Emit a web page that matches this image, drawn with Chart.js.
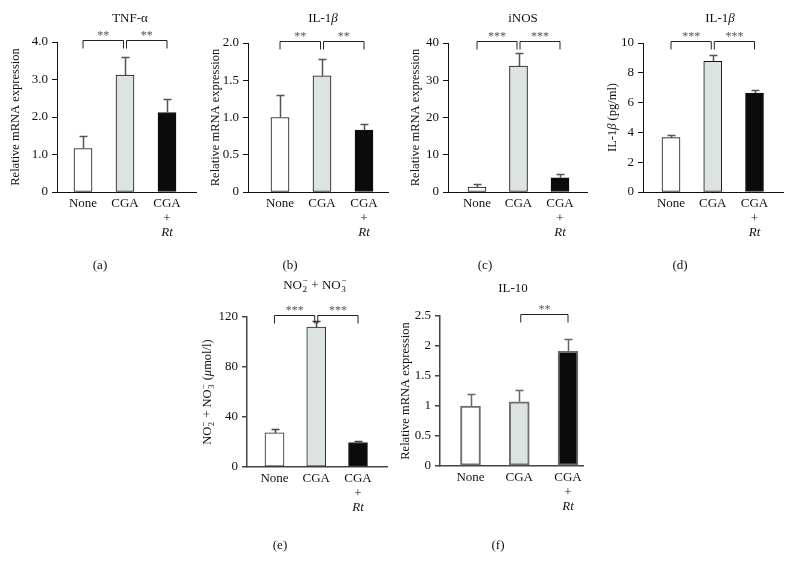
<!DOCTYPE html>
<html><head><meta charset="utf-8">
<script src="https://cdn.jsdelivr.net/npm/chart.js@4.4.1/dist/chart.umd.min.js"></script>
<style>
html,body{margin:0;padding:0;background:#fff;}
#wrap{position:relative;width:786px;height:561px;overflow:hidden;background:#fff;}
#wrap canvas{position:absolute;}
</style></head><body><div id="wrap"></div>
<script>
// ---------- data ----------
const categories = ['None', 'CGA', 'CGA'];
const plusLine = ['', '', '+'];
const rtLine = ['', '', 'Rt'];

const tnfMean = [1.16, 3.12, 2.12];
const tnfErr = [0.34, 0.48, 0.35];
const tnfTickVals = [0, 1, 2, 3, 4];
const tnfTickLabels = ['0', '1.0', '2.0', '3.0', '4.0'];
const tnfSig = [[0, 1, '**'], [1, 2, '**']];

const il1bMean = [1.0, 1.56, 0.83];
const il1bErr = [0.3, 0.23, 0.08];
const il1bTickVals = [0, 0.5, 1, 1.5, 2];
const il1bTickLabels = ['0', '0.5', '1.0', '1.5', '2.0'];
const il1bSig = [[0, 1, '**'], [1, 2, '**']];

const inosMean = [1.3, 33.8, 3.8];
const inosErr = [0.9, 3.6, 0.9];
const inosTickVals = [0, 10, 20, 30, 40];
const inosTickLabels = ['0', '10', '20', '30', '40'];
const inosSig = [[0, 1, '***'], [1, 2, '***']];

const il1bProtMean = [3.65, 8.77, 6.64];
const il1bProtErr = [0.2, 0.42, 0.18];
const il1bProtTickVals = [0, 2, 4, 6, 8, 10];
const il1bProtTickLabels = ['0', '2', '4', '6', '8', '10'];
const il1bProtSig = [[0, 1, '***'], [1, 2, '***']];

const noxMean = [27.3, 112, 19.6];
const noxErr = [2.8, 5, 1.0];
const noxTickVals = [0, 40, 80, 120];
const noxTickLabels = ['0', '40', '80', '120'];
const noxSig = [[0, 1, '***'], [1, 2, '***']];

const il10Mean = [1.0, 1.07, 1.91];
const il10Err = [0.2, 0.2, 0.2];
const il10TickVals = [0, 0.5, 1, 1.5, 2, 2.5];
const il10TickLabels = ['0', '0.5', '1', '1.5', '2', '2.5'];
const il10Sig = [[1, 2, '**']];

// ---------- text ----------
const relTitle = [{t: 'Relative mRNA expression'}];
const panelsText = {
  a: {title: [{t: 'TNF-α'}], ytitle: relTitle, label: '(a)'},
  b: {title: [{t: 'IL-1'}, {t: 'β', i: true}], ytitle: relTitle, label: '(b)'},
  c: {title: [{t: 'iNOS'}], ytitle: relTitle, label: '(c)'},
  d: {title: [{t: 'IL-1'}, {t: 'β', i: true}], ytitle: [{t: 'IL-1'}, {t: 'β', i: true}, {t: ' (pg/ml)'}], label: '(d)'},
  e: {title: [{t: 'NO'}, {sub: '2', sup: '−'}, {t: ' + NO'}, {sub: '3', sup: '−'}],
      ytitle: [{t: 'NO'}, {sub: '2', sup: '−'}, {t: ' + NO'}, {sub: '3', sup: '−'}, {t: ' ('}, {t: 'μ', i: true}, {t: 'mol/l)'}], label: '(e)'},
  f: {title: [{t: 'IL-10'}], ytitle: relTitle, label: '(f)'}
};

// ---------- styles ----------
const FONT = "'Liberation Serif', 'Times New Roman', serif";
const barFills = ['#ffffff', '#dde3e0', '#0b0b0b'];
const styleA = {barBorder: '#111', barBW: 1, barW: 18, axis: '#111', axisW: 1, err: '#555', errW: 1.5};
const styleF = {barBorder: '#6e6e6e', barBW: 2, barW: 20, axis: '#444', axisW: 1.5, err: '#666', errW: 1.5};
const styleE = {barBorder: '#222', barBW: 1, barW: 19, axis: '#444', axisW: 1.5, err: '#444', errW: 1.5};

const panels = [
  {k: 'a', mean: tnfMean, err: tnfErr, tv: tnfTickVals, tl: tnfTickLabels, sig: tnfSig, s: styleA,
   box: {x: 0, y: 0, w: 200, h: 275}, plot: {l: 57, r: 196, t: 42, b: 192}, centers: [83, 125, 167],
   titleXY: [130, 18], ytX: 15, labelXY: [100, 265]},
  {k: 'b', mean: il1bMean, err: il1bErr, tv: il1bTickVals, tl: il1bTickLabels, sig: il1bSig, s: styleA,
   box: {x: 200, y: 0, w: 193, h: 275}, plot: {l: 248, r: 388, t: 43, b: 192}, centers: [280, 322.5, 364],
   titleXY: [323, 18], ytX: 215, labelXY: [290, 265]},
  {k: 'c', mean: inosMean, err: inosErr, tv: inosTickVals, tl: inosTickLabels, sig: inosSig, s: styleA,
   box: {x: 393, y: 0, w: 197, h: 275}, plot: {l: 448, r: 587, t: 43, b: 192}, centers: [477, 518, 560],
   titleXY: [523, 18], ytX: 415, labelXY: [485, 265]},
  {k: 'd', mean: il1bProtMean, err: il1bProtErr, tv: il1bProtTickVals, tl: il1bProtTickLabels, sig: il1bProtSig, s: styleA,
   box: {x: 590, y: 0, w: 196, h: 275}, plot: {l: 643, r: 783, t: 43, b: 192}, centers: [671, 712.5, 754.5],
   titleXY: [720, 18], ytX: 612, labelXY: [680, 265]},
  {k: 'e', mean: noxMean, err: noxErr, tv: noxTickVals, tl: noxTickLabels, sig: noxSig, s: styleE,
   box: {x: 180, y: 270, w: 212, h: 285}, plot: {l: 247, r: 387, t: 317, b: 467}, centers: [274.5, 316.5, 358],
   titleXY: [315, 285], ytX: 207, labelXY: [280, 545]},
  {k: 'f', mean: il10Mean, err: il10Err, tv: il10TickVals, tl: il10TickLabels, sig: il10Sig, s: styleF,
   box: {x: 392, y: 270, w: 208, h: 285}, plot: {l: 440, r: 583, t: 316, b: 466}, centers: [470.5, 519, 568],
   titleXY: [513, 288], ytX: 405, labelXY: [498, 545]}
];

function fnt(size, italic) { return (italic ? 'italic ' : '') + size + 'px ' + FONT; }
function richWidth(ctx, segs, size) {
  let w = 0;
  segs.forEach(s => {
    if (s.sub !== undefined || s.sup !== undefined) {
      ctx.font = fnt(size * 0.7);
      w += Math.max(ctx.measureText(s.sub || '').width, ctx.measureText(s.sup || '').width) + 1;
    } else { ctx.font = fnt(size, s.i); w += ctx.measureText(s.t).width; }
  });
  return w;
}
function drawRich(ctx, segs, cx, cy, size, rot) {
  ctx.save();
  ctx.translate(cx, cy);
  if (rot) ctx.rotate(rot);
  const w = richWidth(ctx, segs, size);
  let x = -w / 2;
  const base = size * 0.33;
  ctx.textAlign = 'left'; ctx.textBaseline = 'alphabetic'; ctx.fillStyle = '#111';
  segs.forEach(s => {
    if (s.sub !== undefined || s.sup !== undefined) {
      ctx.font = fnt(size * 0.7);
      if (s.sub) ctx.fillText(s.sub, x + 0.5, base + size * 0.22);
      if (s.sup) ctx.fillText(s.sup, x + 0.5, base - size * 0.42);
      x += Math.max(ctx.measureText(s.sub || '').width, ctx.measureText(s.sup || '').width) + 1;
    } else {
      ctx.font = fnt(size, s.i);
      ctx.fillText(s.t, x, base);
      x += ctx.measureText(s.t).width;
    }
  });
  ctx.restore();
}

Chart.defaults.font.family = FONT;

panels.forEach(p => {
  const txt = panelsText[p.k];
  const wrap = document.getElementById('wrap');
  const cv = document.createElement('canvas');
  cv.width = p.box.w; cv.height = p.box.h;
  cv.style.left = p.box.x + 'px'; cv.style.top = p.box.y + 'px';
  cv.style.width = p.box.w + 'px'; cv.style.height = p.box.h + 'px';
  wrap.appendChild(cv);
  const L = p.plot.l - p.box.x;
  const T = p.plot.t - p.box.y;
  const R = p.box.x + p.box.w - p.plot.r;
  const B = p.plot.b - p.box.y;
  const XH = 20;
  const sp = (p.centers[2] - p.centers[0]) / 2;
  const xmin = (p.plot.l - p.centers[0]) / sp;
  const xmax = (p.plot.r - p.centers[0]) / sp;
  const ymax = p.tv[p.tv.length - 1];
  const s = p.s;

  const deco = {
    id: 'deco' + p.k,
    afterDatasetsDraw(chart) {
      const ctx = chart.ctx, x = chart.scales.x, y = chart.scales.y;
      ctx.save();
      ctx.strokeStyle = s.err; ctx.lineWidth = s.errW;
      p.mean.forEach((m, i) => {
        const px = Math.round(x.getPixelForValue(i)) + 0.5;
        const y0 = y.getPixelForValue(m);
        const y1 = Math.round(y.getPixelForValue(m + p.err[i])) + 0.5;
        ctx.beginPath();
        ctx.moveTo(px, y0); ctx.lineTo(px, y1);
        ctx.moveTo(px - 4, y1); ctx.lineTo(px + 4, y1);
        ctx.stroke();
      });
      ctx.restore();
    },
    afterDraw(chart) {
      const ctx = chart.ctx, x = chart.scales.x, y = chart.scales.y, ca = chart.chartArea;
      ctx.save();
      // brackets
      const yb = Math.round(ca.top - 2) + 0.5;
      ctx.strokeStyle = '#222'; ctx.lineWidth = 1;
      p.sig.forEach(([i, j, lab]) => {
        let x1 = x.getPixelForValue(i), x2 = x.getPixelForValue(j);
        if (i === 1) x1 += 1.5;
        if (j === 1) x2 -= 1.5;
        ctx.beginPath();
        ctx.moveTo(x1, yb + 8); ctx.lineTo(x1, yb); ctx.lineTo(x2, yb); ctx.lineTo(x2, yb + 8);
        ctx.stroke();
        ctx.fillStyle = '#555'; ctx.font = fnt(12);
        ctx.textAlign = 'center'; ctx.textBaseline = 'middle';
        ctx.fillText(lab, (x1 + x2) / 2, yb - 5);
      });
      // extra x label lines
      ctx.fillStyle = '#111'; ctx.textAlign = 'center'; ctx.textBaseline = 'middle';
      categories.forEach((c, i) => {
        const px = x.getPixelForValue(i);
        if (plusLine[i]) { ctx.font = fnt(13); ctx.fillText(plusLine[i], px, ca.bottom + 27); }
        if (rtLine[i]) { ctx.font = fnt(13, true); ctx.fillText(rtLine[i], px, ca.bottom + 41); }
      });
      // title, y title, panel label
      drawRich(ctx, txt.title, p.titleXY[0] - p.box.x, p.titleXY[1] - p.box.y, 13);
      drawRich(ctx, txt.ytitle, p.ytX - p.box.x, (ca.top + ca.bottom) / 2, 12.5, -Math.PI / 2);
      drawRich(ctx, [{t: txt.label}], p.labelXY[0] - p.box.x, p.labelXY[1] - p.box.y, 13);
      ctx.restore();
    }
  };

  new Chart(cv, {
    type: 'bar',
    data: {
      datasets: [{
        data: p.mean.map((v, i) => ({x: i, y: v})),
        backgroundColor: barFills,
        borderColor: s.barBorder,
        borderWidth: s.barBW,
        borderSkipped: false,
        barThickness: s.barW
      }]
    },
    options: {
      responsive: false, animation: false, devicePixelRatio: 1,
      layout: {padding: {left: 0, top: T, right: R, bottom: p.box.h - B - XH}},
      plugins: {legend: {display: false}, tooltip: {enabled: false}, title: {display: false}},
      scales: {
        x: {
          type: 'linear', min: xmin, max: xmax, offset: false,
          grid: {display: false, drawTicks: false},
          border: {display: true, color: s.axis, width: s.axisW},
          afterBuildTicks: sc => { sc.ticks = categories.map((c, i) => ({value: i})); },
          ticks: {autoSkip: false, maxRotation: 0, minRotation: 0, padding: 4, color: '#111', font: {size: 13},
                  callback: v => categories[Math.round(v)]},
          afterFit: sc => { sc.height = XH; }
        },
        y: {
          type: 'linear', min: 0, max: ymax,
          grid: {drawOnChartArea: false, drawTicks: true, tickLength: 5, color: s.axis, lineWidth: s.axisW},
          border: {display: true, color: s.axis, width: s.axisW},
          afterBuildTicks: sc => { sc.ticks = p.tv.map(v => ({value: v})); },
          ticks: {padding: 4, color: '#111', font: {size: 13},
                  callback: v => p.tl[p.tv.indexOf(v)]},
          afterFit: sc => { sc.width = L; }
        }
      }
    },
    plugins: [deco]
  });
});
</script>
</body></html>
